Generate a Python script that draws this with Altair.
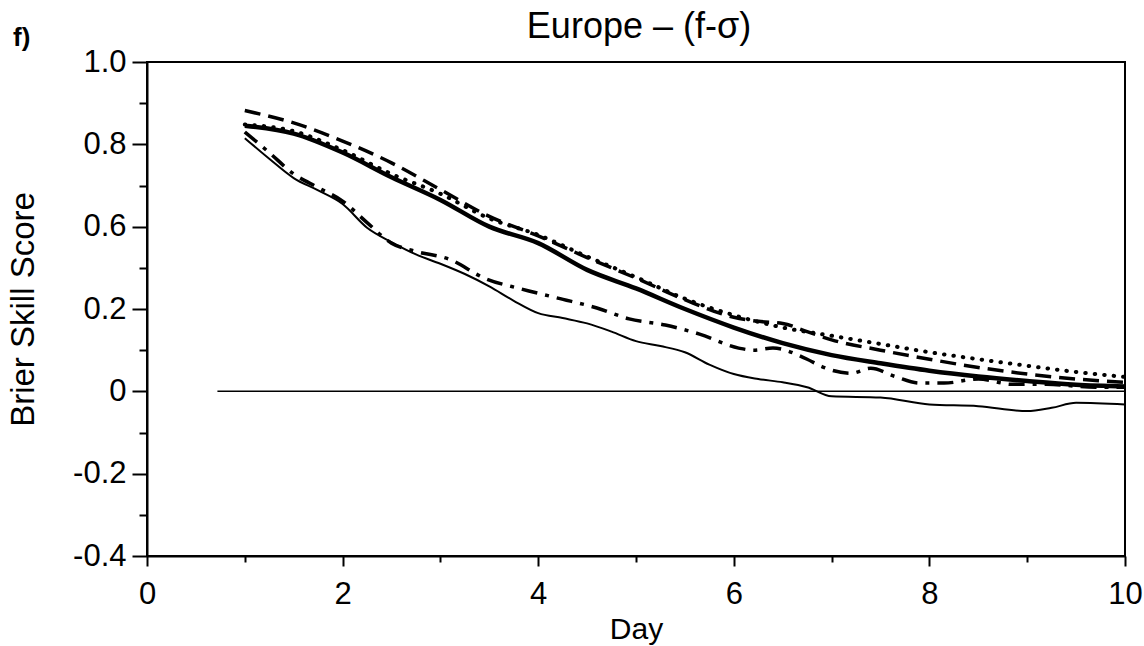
import altair as alt
import pandas as pd

FONT = "Liberation Sans"

# ---- data (y values in the axis' labelled units) ----
DAYS_THICK = [1.0, 1.5, 2.0, 2.5, 3.0, 3.5, 4.0, 4.5, 5.0, 5.5, 6.0, 6.5, 7.0, 7.5, 8.0, 8.5, 9.0, 9.5, 10.0]
THICK_SOLID = [0.845, 0.826, 0.78, 0.72, 0.665, 0.6, 0.52, 0.39, 0.30, 0.20, 0.155, 0.117, 0.088, 0.068,
               0.05, 0.036, 0.025, 0.016, 0.012]

DAYS_DASHED = [1.0, 1.5, 2.0, 2.5, 3.0, 3.5, 4.0, 4.5, 5.0, 5.5, 6.0, 6.25, 6.5, 6.75, 7.0, 7.5, 8.0, 8.5,
               9.0, 9.5, 10.0]
DASHED = [0.882, 0.852, 0.808, 0.755, 0.69, 0.625, 0.555, 0.45, 0.35, 0.245, 0.18, 0.17, 0.165, 0.145,
          0.125, 0.10, 0.078, 0.058, 0.042, 0.03, 0.022]

DAYS_DOTTED = [1.0, 1.5, 2.0, 2.5, 3.0, 3.5, 4.0, 4.5, 5.0, 5.5, 6.0, 6.5, 7.0, 7.5, 8.0, 8.5, 9.0, 9.5, 10.0]
DOTTED = [0.848, 0.832, 0.786, 0.728, 0.68, 0.62, 0.56, 0.455, 0.355, 0.25, 0.185, 0.155, 0.135, 0.115,
          0.095, 0.078, 0.062, 0.047, 0.035]

DAYS_DASHDOT = [1.0, 1.25, 1.5, 1.75, 2.0, 2.25, 2.5, 2.75, 3.1, 3.45, 3.83, 4.2, 4.6, 4.93, 5.3, 5.65,
                6.05, 6.2, 6.4, 6.75, 6.9, 7.2, 7.4, 7.65, 7.9, 8.15, 8.5, 8.85, 9.2, 9.7, 10.0]
DASHDOT = [0.83, 0.78, 0.728, 0.695, 0.662, 0.61, 0.52, 0.48, 0.44, 0.35, 0.297, 0.253, 0.205, 0.176,
           0.161, 0.139, 0.105, 0.10, 0.105, 0.078, 0.06, 0.044, 0.056, 0.036, 0.02, 0.02, 0.03, 0.017,
           0.017, 0.01, 0.01]

DAYS_THIN = [1.0, 1.25, 1.5, 1.75, 2.0, 2.25, 2.5, 2.75, 3.0, 3.25, 3.5, 3.75, 4.0, 4.25, 4.5, 4.75, 5.0,
             5.25, 5.5, 5.75, 6.0, 6.25, 6.5, 6.75, 7.0, 7.5, 8.0, 8.5, 9.0, 9.25, 9.5, 10.0]
THIN_SOLID = [0.815, 0.765, 0.718, 0.688, 0.655, 0.595, 0.525, 0.465, 0.42, 0.37, 0.31, 0.24, 0.19, 0.178,
              0.165, 0.145, 0.122, 0.11, 0.095, 0.065, 0.042, 0.03, 0.022, 0.01, -0.012, -0.015, -0.032,
              -0.036, -0.048, -0.04, -0.028, -0.032]

ZERO_LINE_DAYS = [0.72, 10.0]

# axis ticks / labels
X_TICKS = list(range(0, 11))
Y_MAJOR = [-0.4, -0.2, 0, 0.2, 0.6, 0.8, 1.0]
Y_LABELS = ["-0.4", "-0.2", "0", "0.2", "0.6", "0.8", "1.0"]
Y_MINOR = [-0.3, -0.1, 0.1, 0.4, 0.7, 0.9]

TITLE = "Europe – (f-σ)"
PANEL = "f)"

W, H = 978, 494

# piecewise y-scale: labels are evenly spaced on the original axis
yscale = alt.Scale(domain=[-0.4, 0.2, 0.6, 1.0], range=[H, H / 2, H / 3, 0], zero=False, nice=False)
xscale = alt.Scale(domain=[0, 10], nice=False, zero=False)

label_expr = ""
for v, s in zip(Y_MAJOR, Y_LABELS):
    label_expr += f"datum.value === {v} ? '{s}' : "
label_expr += "''"
major_test = "indexof(" + str(Y_MAJOR) + ", datum.value) >= 0"

yaxis = alt.Axis(
    values=sorted(Y_MAJOR + Y_MINOR), labelExpr=label_expr,
    tickSize=alt.condition(major_test, alt.value(15), alt.value(8)),
    tickWidth=2, tickColor="black", domainColor="black", domainWidth=2,
    labelFont=FONT, labelFontSize=31, labelColor="black", labelPadding=6, labelOverlap=False,
    title="Brier Skill Score", titleFont=FONT, titleFontSize=33, titleFontWeight="normal",
    titleColor="black", titleX=-114, titleY=H / 2, titleAngle=270, titleBaseline="alphabetic",
    titleAlign="center", grid=False,
)
xaxis = alt.Axis(
    values=X_TICKS, labelExpr="datum.value % 2 == 0 ? datum.label : ''",
    tickSize=alt.condition("datum.value % 2 == 0", alt.value(10), alt.value(6)),
    tickWidth=2, tickColor="black", domainColor="black", domainWidth=2,
    labelFont=FONT, labelFontSize=31, labelColor="black", labelBaseline="alphabetic",
    labelPadding=37, labelOverlap=False, labelFlush=False,
    title="Day", titleFont=FONT, titleFontSize=30, titleFontWeight="normal", titleColor="black",
    titleY=82, titleBaseline="alphabetic", grid=False,
)


def line(days, vals, width, dash=None, cap="butt"):
    df = pd.DataFrame({"day": days, "bss": vals})
    kw = dict(color="black", strokeWidth=width, interpolate="monotone", strokeCap=cap)
    if dash:
        kw["strokeDash"] = dash
    return alt.Chart(df).mark_line(**kw).encode(
        x=alt.X("day:Q", scale=xscale, axis=xaxis),
        y=alt.Y("bss:Q", scale=yscale, axis=yaxis),
    )


zero = alt.Chart(pd.DataFrame({"x": [ZERO_LINE_DAYS[0]], "x2": [ZERO_LINE_DAYS[1]], "y": [0]})).mark_rule(
    color="black", strokeWidth=1.5
).encode(x=alt.X("x:Q", scale=xscale, axis=xaxis), x2="x2:Q", y=alt.Y("y:Q", scale=yscale, axis=yaxis))

panel = alt.Chart(pd.DataFrame({"t": [PANEL]})).mark_text(
    align="left", baseline="alphabetic", font=FONT, fontSize=26, fontWeight="bold", color="black",
    x=-134, y=-16
).encode(text="t:N")

title = alt.Chart(pd.DataFrame({"t": [TITLE]})).mark_text(
    align="center", baseline="alphabetic", font=FONT, fontSize=36, color="black",
    x=W / 2 + 3, y=-24
).encode(text="t:N")

chart = alt.layer(
    zero,
    line(DAYS_THIN, THIN_SOLID, 2),
    line(DAYS_DASHDOT, DASHDOT, 3.5, [16, 8, 4, 8]),
    line(DAYS_DOTTED, DOTTED, 4, [0.5, 9], cap="round"),
    line(DAYS_DASHED, DASHED, 3.5, [16, 8]),
    line(DAYS_THICK, THICK_SOLID, 4.5),
    panel,
    title,
).properties(
    width=W, height=H,
    padding={"left": 147, "top": 62, "right": 19, "bottom": 90},
    autosize=alt.AutoSizeParams(type="none"),
).configure_view(stroke="black", strokeWidth=2)

chart.save("out.html", embed_options={"renderer": "svg", "actions": False})
